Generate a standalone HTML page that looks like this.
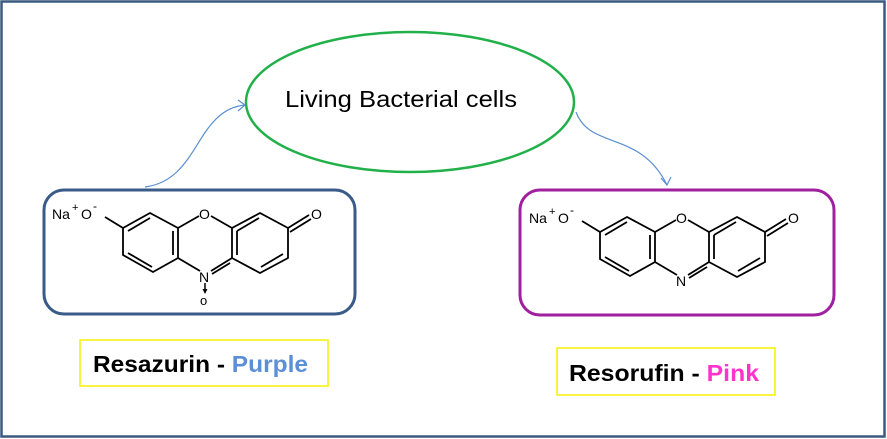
<!DOCTYPE html>
<html><head><meta charset="utf-8"><style>
html,body{margin:0;padding:0;background:#fff;width:887px;height:439px;overflow:hidden}
</style></head><body>
<svg width="887" height="439" xmlns="http://www.w3.org/2000/svg" font-family="Liberation Sans, sans-serif">
<defs>
<g id="mol" stroke="#000" stroke-width="1.8" fill="none">
<polyline points="123,228 150,213 178,228 178,258 153,272 123,255 123,228"/>
<line x1="128" y1="231" x2="150" y2="218"/>
<line x1="173" y1="231" x2="173" y2="255"/>
<line x1="128" y1="253" x2="152" y2="267"/>
<line x1="178" y1="228" x2="199" y2="216"/>
<line x1="211" y1="216" x2="232" y2="228"/>
<polyline points="232,228 260,213 288,228 288,258 260,273 232,258 232,228"/>
<line x1="237" y1="231" x2="259" y2="218"/>
<line x1="237" y1="231" x2="237" y2="255"/>
<line x1="261" y1="267" x2="283" y2="254"/>
<line x1="288" y1="228" x2="309" y2="215"/>
<line x1="290" y1="232" x2="311" y2="219"/>
<line x1="123" y1="228" x2="105" y2="217"/>
<line x1="178" y1="258" x2="200" y2="271"/>
<line x1="232" y1="258" x2="211" y2="271"/>
<line x1="230" y1="263" x2="212" y2="274"/>
</g>
</defs>
<rect x="1.5" y="1.5" width="883" height="435" fill="none" stroke="#3b5a80" stroke-width="2.5"/>
<ellipse cx="410" cy="102" rx="164" ry="70" fill="none" stroke="#22b04a" stroke-width="2.5"/>
<text x="285" y="107" font-size="23" fill="#000" textLength="232" lengthAdjust="spacingAndGlyphs">Living Bacterial  cells</text>
<path d="M145,187 C200,180 195,110 245,105" fill="none" stroke="#5b8fd0" stroke-width="1.2"/>
<path d="M238,100 L245,105 L238,111" fill="none" stroke="#5b8fd0" stroke-width="1.2"/>
<path d="M576,112 C590,150 640,130 667,185" fill="none" stroke="#5b8fd0" stroke-width="1.2"/>
<path d="M661,178 L667,185 L671,177" fill="none" stroke="#5b8fd0" stroke-width="1.2"/>
<rect x="44" y="190" width="311" height="124" rx="20" fill="none" stroke="#3a5a88" stroke-width="3"/>
<rect x="520" y="190" width="314" height="125" rx="20" fill="none" stroke="#a020a0" stroke-width="3"/>
<use href="#mol"/>
<g font-size="14" fill="#000">
<text x="52" y="219">Na</text><text x="72" y="211" font-size="11">+</text>
<text x="81" y="219">O</text><text x="93" y="210" font-size="12">-</text>
<text x="199" y="219">O</text>
<text x="311" y="219">O</text>
<text x="199" y="282">N</text>
<text x="200" y="305" font-size="13">o</text>
</g>
<line x1="205" y1="283" x2="205" y2="292" stroke="#000" stroke-width="1.5"/>
<path d="M202.5,289 L205,294 L207.5,289Z" fill="#000"/>
<g transform="translate(477,4)">
<use href="#mol"/>
<g font-size="14" fill="#000">
<text x="52" y="219">Na</text><text x="72" y="211" font-size="11">+</text>
<text x="81" y="219">O</text><text x="93" y="210" font-size="12">-</text>
<text x="199" y="219">O</text>
<text x="311" y="219">O</text>
<text x="199" y="282">N</text>
</g>
</g>
<rect x="80" y="340" width="248" height="46" fill="none" stroke="#f5f000" stroke-width="1.5"/>
<text x="93" y="372" font-size="23" font-weight="bold" fill="#000" textLength="215" lengthAdjust="spacingAndGlyphs">Resazurin - <tspan fill="#5b8fd8">Purple</tspan></text>
<rect x="557" y="348" width="218" height="47" fill="none" stroke="#f5f000" stroke-width="1.5"/>
<text x="569" y="381" font-size="23" font-weight="bold" fill="#000" textLength="190" lengthAdjust="spacingAndGlyphs">Resorufin - <tspan fill="#ff33cc">Pink</tspan></text>
</svg>
</body></html>
